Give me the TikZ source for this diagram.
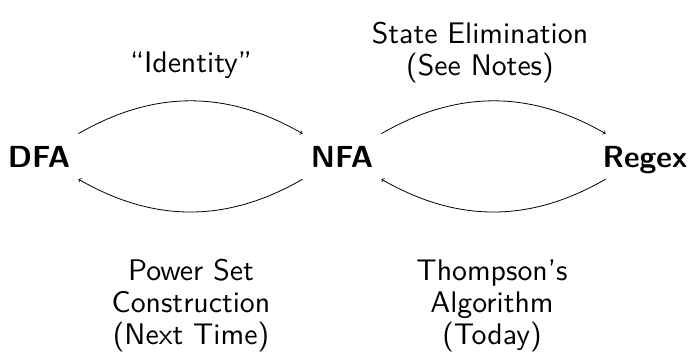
\documentclass[tikz,border=0pt]{standalone}
\usetikzlibrary{arrows}
\renewcommand{\familydefault}{\sfdefault}
\begin{document}
\begin{tikzpicture}[x=1pt,y=-1pt,
  state/.style={font=\fontsize{30.5}{34}\selectfont\bfseries, inner sep=12pt, text depth=0pt, anchor=base},
  lbl/.style={font=\fontsize{10}{10.7}\selectfont, align=center, inner sep=0pt, anchor=base, scale=2.98, transform shape},
  conn/.style={->, >=to, line width=0.8pt}]
\useasboundingbox (0,0) rectangle (691,359);
\node[state] (dfa) at (39,167) {DFA};
\node[state] (nfa) at (342,167) {NFA};
\node[state] (rgx) at (645,167) {Regex};
\draw[conn] (dfa) to[out=30,in=150] (nfa);
\draw[conn] (nfa) to[out=210,in=-30] (dfa);
\draw[conn] (nfa) to[out=30,in=150] (rgx);
\draw[conn] (rgx) to[out=210,in=-30] (nfa);
\node[lbl] (id) at (191,72) {``Identity''};
\node[lbl] (se) at (480,75) {State Elimination\\(See Notes)};
\node[lbl] (ps) at (191,344) {Power Set\\Construction\\(Next Time)};
\node[lbl] (th) at (492,344) {Thompson's\\Algorithm\\(Today)};
\end{tikzpicture}
\end{document}
